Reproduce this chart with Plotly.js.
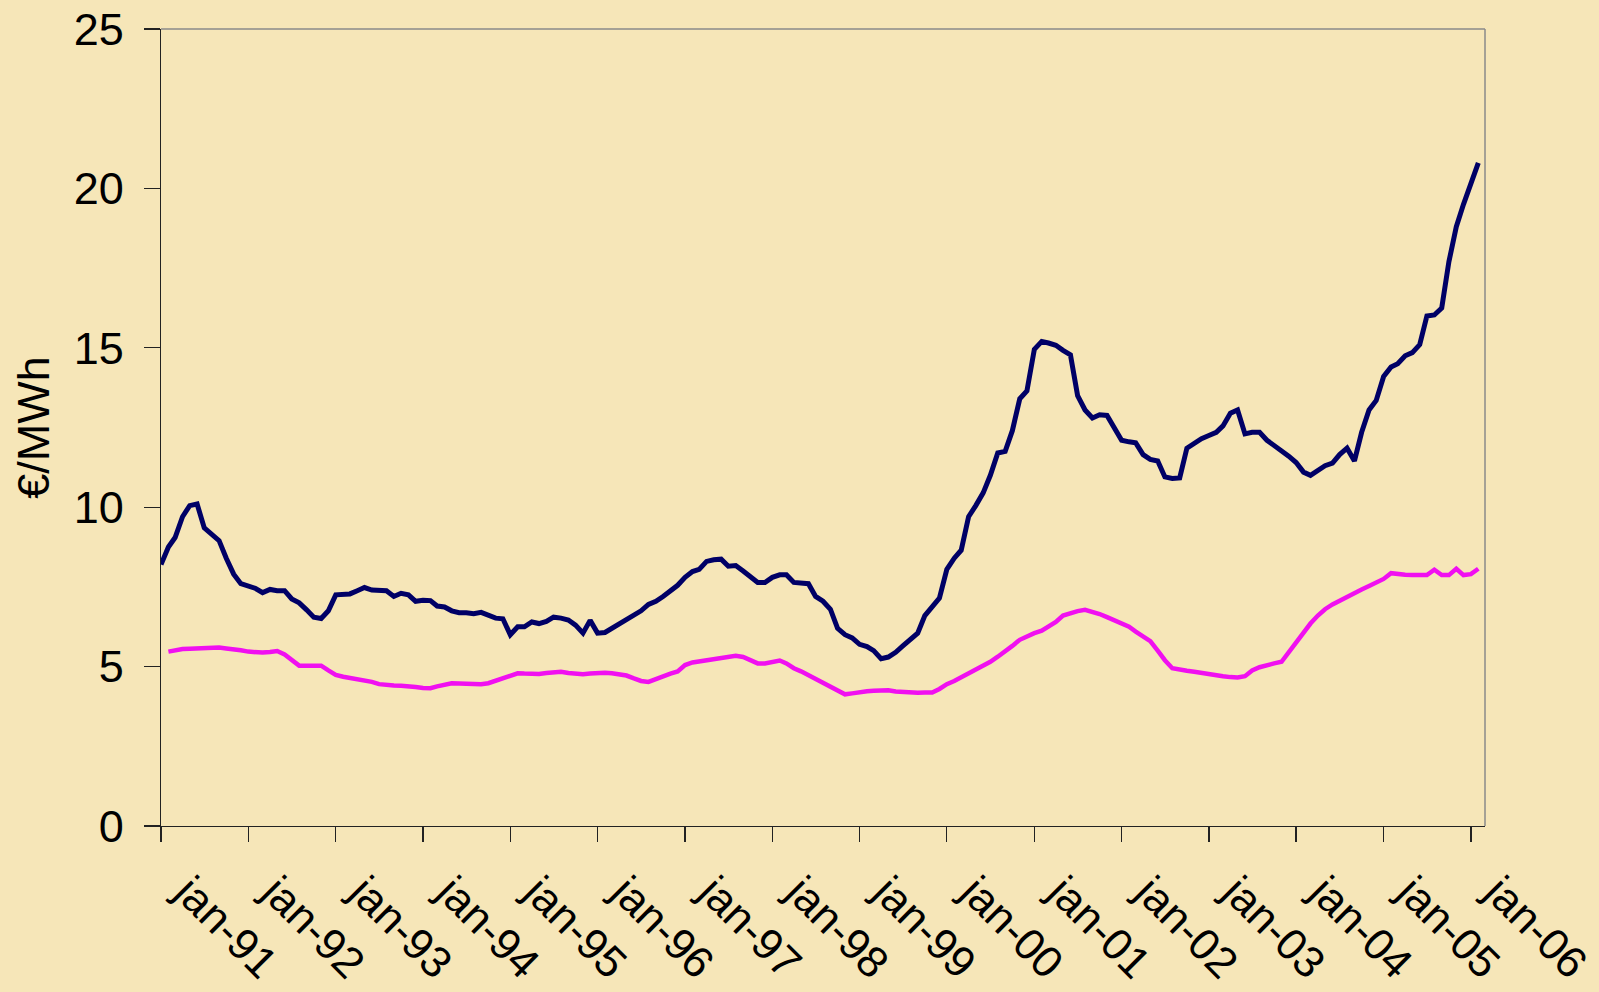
<!DOCTYPE html>
<html>
<head>
<meta charset="utf-8">
<script src="https://cdn.plot.ly/plotly-3.0.1.min.js"></script>
<style>
  html, body { margin: 0; padding: 0; background: #F6E6B8; }
  #chart { width: 1599px; height: 992px; }
</style>
</head>
<body>
<div id="chart"></div>
<script>
// Monthly series, Jan 1991 .. Feb 2006 (182 months)
const startYear = 1991;
const seriesDark = [
  8.2, 8.75, 9.05, 9.7, 10.05, 10.1, 9.35, 9.15, 8.95, 8.4, 7.9, 7.6,
  7.52, 7.45, 7.32, 7.42, 7.38, 7.38, 7.12, 7.0, 6.78, 6.55, 6.51, 6.75,
  7.25, 7.28, 7.28, 7.38, 7.48, 7.4, 7.38, 7.38, 7.2, 7.3, 7.25, 7.05,
  7.08, 7.07, 6.9, 6.87, 6.75, 6.69, 6.69, 6.66, 6.7, 6.63, 6.52, 6.5,
  6.0, 6.25, 6.25, 6.4, 6.35, 6.42, 6.55, 6.52, 6.46, 6.3, 6.05, 6.45,
  6.05, 6.07, 6.2, 6.35, 6.48, 6.62, 6.75, 6.95, 7.05, 7.2, 7.37, 7.55,
  7.8, 7.98, 8.05, 8.3, 8.35, 8.37, 8.15, 8.17, 8.0, 7.8, 7.64, 7.64,
  7.8, 7.88, 7.88, 7.64, 7.62, 7.6, 7.2, 7.05, 6.8, 6.2, 6.0, 5.9,
  5.7, 5.63, 5.5, 5.25, 5.3, 5.45, 5.65, 5.85, 6.05, 6.6, 6.9, 7.15,
  8.05, 8.4, 8.65, 9.7, 10.05, 10.45, 11.0, 11.7, 11.75, 12.4, 13.4, 13.65,
  14.95, 15.2, 15.15, 15.08, 14.92, 14.78, 13.5, 13.05, 12.8, 12.9, 12.88, 12.5,
  12.1, 12.05, 12.02, 11.65, 11.5, 11.45, 10.95, 10.9, 10.92, 11.85, 12.0, 12.15,
  12.25, 12.35, 12.55, 12.95, 13.05, 12.3, 12.35, 12.35, 12.1, 11.95, 11.75, 11.6,
  11.4, 11.1, 11.0, 11.15, 11.3, 11.38, 11.65, 11.85, 11.45, 12.35, 13.05, 13.35,
  14.1, 14.4, 14.5, 14.75, 14.85, 15.1, 16.0, 16.03, 16.25, 17.7, 18.8, 19.5,
  20.1, 20.8
];
const seriesMagenta = [
  null, 5.47, 5.52, 5.55, 5.56, 5.57, 5.6, 5.62, 5.6, 5.57, 5.55, 5.51,
  5.47, 5.44, 5.44, 5.46, 5.49, 5.38, 5.2, 5.03, 5.03, 5.03, 5.03, 4.88,
  4.74, 4.68, 4.65, 4.62, 4.58, 4.52, 4.45, 4.42, 4.41, 4.4, 4.39, 4.36,
  4.33, 4.32, 4.38, 4.44, 4.48, 4.47, 4.46, 4.45, 4.45, 4.48, 4.55, 4.62,
  4.7, 4.79, 4.78, 4.76, 4.77, 4.8, 4.83, 4.84, 4.8, 4.77, 4.76, 4.78,
  4.8, 4.81, 4.79, 4.76, 4.72, 4.63, 4.55, 4.52, 4.62, 4.68, 4.78, 4.85,
  5.05, 5.13, 5.16, 5.2, 5.24, 5.28, 5.32, 5.34, 5.3, 5.2, 5.1, 5.1,
  5.13, 5.19, 5.1, 4.95, 4.85, 4.73, 4.62, 4.5, 4.38, 4.25, 4.13, 4.16,
  4.2, 4.23, 4.24, 4.25, 4.26, 4.22, 4.2, 4.18, 4.18, 4.19, 4.19, 4.3,
  4.45, 4.55, 4.66, 4.78, 4.9, 5.02, 5.15, 5.31, 5.47, 5.65, 5.84, 5.95,
  6.05, 6.13, 6.25, 6.4, 6.6, 6.68, 6.74, 6.78, 6.72, 6.65, 6.55, 6.45,
  6.35, 6.25, 6.1, 5.95, 5.8, 5.5, 5.2, 4.95, 4.9, 4.87, 4.84, 4.8,
  4.75, 4.72, 4.7, 4.67, 4.66, 4.7, 4.88, 4.98, 5.05, 5.1, 5.15, 5.45,
  5.75, 6.05, 6.35, 6.6, 6.8, 6.95, 7.07, 7.17, 7.33, 7.42, 7.53, 7.64,
  7.75, 7.93, 7.9, 7.88, 7.87, 7.87, 7.87, 8.04, 7.87, 7.87, 8.07, 7.87,
  7.9, 8.07
];
const tickYears = [1991,1992,1993,1994,1995,1996,1997,1998,1999,2000,2001,2002,2003,2004,2005,2006];
const tickLabels = ["jan-91","jan-92","jan-93","jan-94","jan-95","jan-96","jan-97","jan-98",
                    "jan-99","jan-00","jan-01","jan-02","jan-03","jan-04","jan-05","jan-06"];
const yTicks = [0, 5, 10, 15, 20, 25];
const yTitle = "€/MWh";

function monthDate(i) {
  const y = startYear + Math.floor(i / 12);
  const m = (i % 12) + 1;
  return y + "-" + (m < 10 ? "0" + m : m) + "-01";
}
const dates = seriesDark.map((_, i) => monthDate(i));

const FONT = "Liberation Sans, Arial, sans-serif";

const traces = [
  { x: dates, y: seriesDark, type: "scatter", mode: "lines",
    line: { color: "#000066", width: 5 }, connectgaps: false, hoverinfo: "skip" },
  { x: dates, y: seriesMagenta, type: "scatter", mode: "lines",
    line: { color: "#F010F0", width: 4.5 }, connectgaps: false, hoverinfo: "skip" }
];

const layout = {
  width: 1599, height: 992,
  paper_bgcolor: "#F6E6B8", plot_bgcolor: "#F6E6B8",
  margin: { l: 161, r: 114, t: 29, b: 166 },
  showlegend: false,
  font: { family: FONT, size: 45, color: "#000" },
  xaxis: {
    type: "date",
    range: ["1991-01-01", "2006-03-01"],
    tickmode: "array",
    tickvals: tickYears.map(y => y + "-01-01"),
    ticktext: tickLabels,
    tickangle: 45,
    ticks: "outside", ticklen: 15, tickwidth: 1.3, tickcolor: "#222",
    showline: true, linecolor: "#222", linewidth: 1.3,
    showgrid: false, zeroline: false,
    tickfont: { family: FONT, size: 44, color: "#000" },
    ticklabelshift: 27,
    ticklabelstandoff: 6,
    automargin: false
  },
  yaxis: {
    range: [0, 25],
    tickmode: "array", tickvals: yTicks,
    ticks: "outside", ticklen: 16, tickwidth: 1.3, tickcolor: "#222",
    showline: true, linecolor: "#222", linewidth: 1.3,
    showgrid: false, zeroline: false,
    tickfont: { family: FONT, size: 45, color: "#000" },
    ticklabelstandoff: 11,
    title: { text: yTitle, font: { family: FONT, size: 45, color: "#000" }, standoff: 10 },
    automargin: false
  },
  shapes: [
    { type: "line", xref: "paper", yref: "paper", x0: 0, x1: 1, y0: 1, y1: 1,
      line: { color: "#8a8a8a", width: 1.5 }, layer: "below" },
    { type: "line", xref: "paper", yref: "paper", x0: 1, x1: 1, y0: 0, y1: 1,
      line: { color: "#8a8a8a", width: 1.5 }, layer: "below" }
  ]
};

Plotly.newPlot("chart", traces, layout, { staticPlot: true, displayModeBar: false });
</script>
</body>
</html>
